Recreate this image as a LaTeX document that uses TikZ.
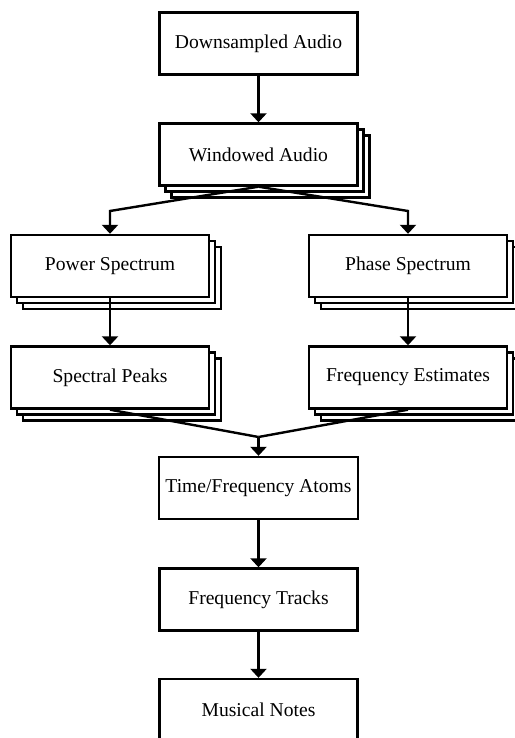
\documentclass[tikz,border=0pt]{standalone}
\usepackage{fontspec}
\setmainfont{Liberation Serif}
\usetikzlibrary{positioning,arrows.meta}

\begin{document}
\begin{tikzpicture}[
  x=0.5pt, y=-0.5pt,
  box/.style={draw, fill=white, line width=1.2pt, minimum width=99pt, minimum height=31pt,
              text centered, font=\fontsize{9.8}{12}\selectfont},
  stackbox/.style={box,
    preaction={draw, fill=white, transform canvas={xshift=6pt, yshift=-6pt}},
    preaction={draw, fill=white, transform canvas={xshift=3pt, yshift=-3pt}}},
  arrow/.style={-{Triangle[width=8pt, length=4.5pt]}, line width=1.2pt},
  line/.style={line width=1.2pt}
]
  \useasboundingbox (0, 0) rectangle (514, 738);

  \node[box] (downsampled) at (258.5, 43.5) {Downsampled Audio};
  \node[stackbox] (windowed) at (258.5, 154.5) {Windowed Audio};
  \node[stackbox] (power) at (110, 266) {Power Spectrum};
  \node[stackbox] (phase) at (408, 266) {Phase Spectrum};
  \node[stackbox] (peaks) at (110, 377.5) {Spectral Peaks};
  \node[stackbox] (estimates) at (408, 377.5) {Frequency Estimates};
  \node[box] (atoms) at (258.5, 488) {Time/Frequency Atoms};
  \node[box] (tracks) at (258.5, 599.5) {Frequency Tracks};
  \node[box] (notes) at (258.5, 710) {Musical Notes};

  \coordinate (splitleft) at (110, 211);
  \coordinate (splitright) at (408, 211);
  \coordinate (merge) at (258.5, 437);

  \draw[arrow] (downsampled) -- (windowed);
  \draw[arrow] (windowed.south) -- (splitleft) -- (power);
  \draw[arrow] (windowed.south) -- (splitright) -- (phase);
  \draw[arrow] (power) -- (peaks);
  \draw[arrow] (phase) -- (estimates);
  \draw[line] (peaks.south) -- (merge);
  \draw[line] (estimates.south) -- (merge);
  \draw[arrow] (merge) -- (atoms);
  \draw[arrow] (atoms) -- (tracks);
  \draw[arrow] (tracks) -- (notes);
\end{tikzpicture}
\end{document}
